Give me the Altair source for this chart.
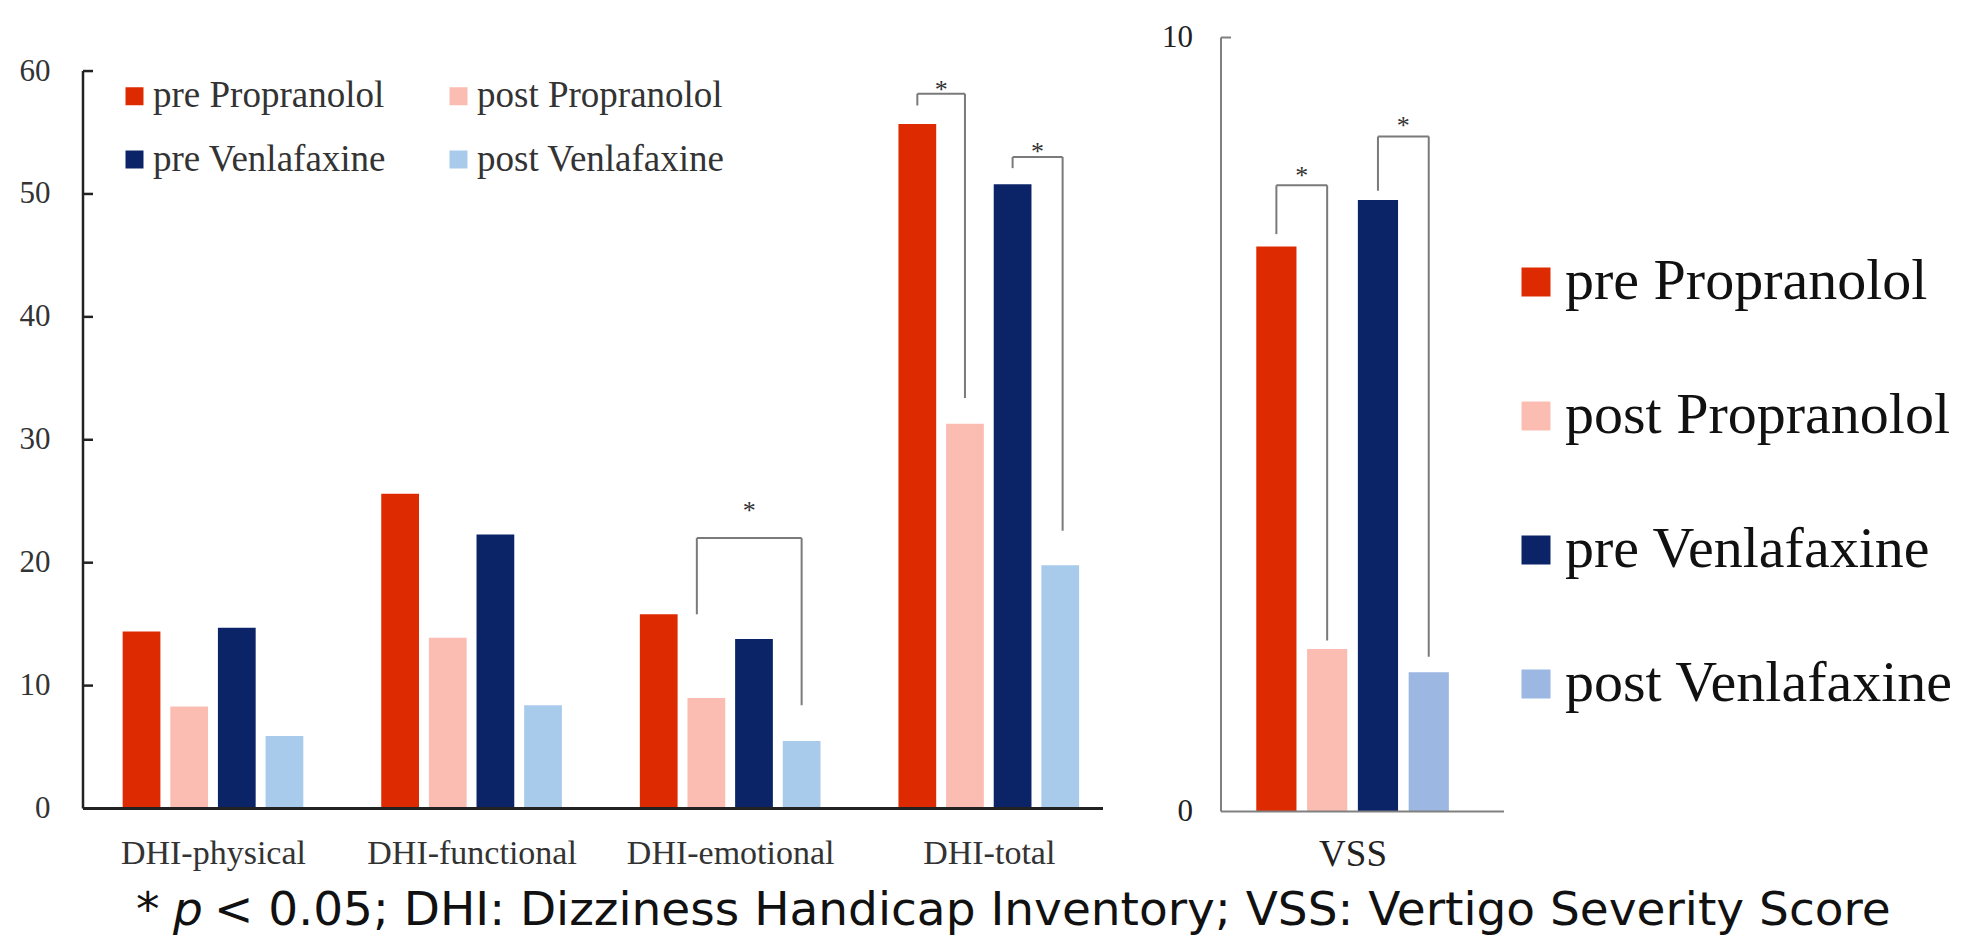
import json
import altair as alt
import pandas as pd

# ---------------- data ----------------
categories = ["DHI-physical", "DHI-functional", "DHI-emotional", "DHI-total"]
series = ["pre Propranolol", "post Propranolol", "pre Venlafaxine", "post Venlafaxine"]

pre_propranolol = [14.4, 25.6, 15.8, 55.7]
post_propranolol = [8.3, 13.9, 9.0, 31.3]
pre_venlafaxine = [14.7, 22.3, 13.8, 50.8]
post_venlafaxine = [5.9, 8.4, 5.5, 19.8]

vss_category = ["VSS"]
vss_values = [7.3, 2.1, 7.9, 1.8]   # pre Prop, post Prop, pre Ven, post Ven

dhi_ticks = [0, 10, 20, 30, 40, 50, 60]
vss_ticks = [0, 10]

colors_dhi = ["#DE2A00", "#FBBDB2", "#0B2468", "#A9CBEB"]
colors_vss = ["#DE2A00", "#FBBDB2", "#0B2468", "#9BB7E2"]

# significance brackets (group, from slot, to slot, top, left end, right end, star height)
dhi_br_group = [2, 3, 3]
dhi_br_from = [-0.70, -1.5, 0.5]
dhi_br_to = [1.5, -0.5, 1.55]
dhi_br_top = [22.0, 58.15, 53.0]
dhi_br_left_end = [15.8, 57.2, 52.1]
dhi_br_right_end = [8.4, 33.4, 22.6]
dhi_star_y = [24.5, 58.8, 53.7]

vss_br_group = [0, 0]
vss_br_from = [-1.5, 0.5]
vss_br_to = [-0.5, 1.5]
vss_br_top = [8.09, 8.72]
vss_br_left_end = [7.46, 8.02]
vss_br_right_end = [2.21, 2.0]
vss_star_y = [8.26, 8.91]

caption_star = "*"
caption_p = "p"
caption_rest = "< 0.05; DHI: Dizziness Handicap Inventory; VSS: Vertigo Severity Score"

# ---------------- layout constants ----------------
SERIF = "Liberation Serif"
CAP_FONT = "DejaVu Sans"
W, H = 1421, 774                 # plot area spanning both panels
X_DOMAIN = [-0.5026, 4.9923]     # group units
DHI_CENTERS = [0, 1, 2, 3]
DHI_SLOT, DHI_BAR = 0.1842, 0.146
VSS_CENTERS = [4.4067]
VSS_SLOT, VSS_BAR = 0.1964, 0.1554
DHI_Y = [-0.244, 62.73]
VSS_Y = [0, 10]
RIGHT_AXIS_PX = 1138             # pixel x of the VSS axis inside the plot

xscale = alt.Scale(domain=X_DOMAIN, nice=False, zero=False)


def bar_frame(per_series, centers, slot, bw):
    rows = []
    for si, (name, vals) in enumerate(zip(series, per_series)):
        for gi, v in enumerate(vals):
            c = centers[gi] + (si - 1.5) * slot
            rows.append({"series": name, "x_lo": c - bw / 2, "x_hi": c + bw / 2,
                         "value": v, "zero": 0})
    return pd.DataFrame(rows)


def bracket_frames(groups, frm, to, top, lend, rend, stars, centers, slot):
    segs, st = [], []
    for g, a, b, t, l, r, s in zip(groups, frm, to, top, lend, rend, stars):
        xa, xb = centers[g] + a * slot, centers[g] + b * slot
        segs += [dict(x1=xa, x2=xb, y1=t, y2=t),
                 dict(x1=xa, x2=xa, y1=t, y2=l),
                 dict(x1=xb, x2=xb, y1=t, y2=r)]
        st.append(dict(x=(xa + xb) / 2, y=s, t="*"))
    return pd.DataFrame(segs), pd.DataFrame(st)


all_centers = DHI_CENTERS + VSS_CENTERS
label_expr = ("datum.value > 4 ? " + json.dumps(vss_category[0]) + " : "
              + json.dumps(categories) + "[datum.value]")
xaxis = alt.Axis(values=all_centers, labelExpr=label_expr, title=None, grid=False,
                 ticks=False, domain=False, labelFont=SERIF,
                 labelFontSize={"condition": {"test": "datum.value > 4", "value": 37}, "value": 34},
                 labelColor={"condition": {"test": "datum.value > 4", "value": "#222222"}, "value": "#333333"},
                 labelPadding=25, labelFlush=False, labelOverlap=False, labelBound=False,
                 labelLimit=1000)


def panel(df, segs, stars, ydom, ticks, colors, legend, axis_color, xw, yw,
          x_px0, x_px1, label_color, label_pad, use_axis):
    yscale = alt.Scale(domain=ydom, nice=False, zero=False)
    if use_axis:
        yaxis = alt.Axis(values=ticks, title=None, grid=False, ticks=False, domain=False,
                         orient="left", format="d",
                         labelFont=SERIF, labelFontSize=31, labelColor=label_color,
                         labelPadding=label_pad, labelFlush=False, labelOverlap=False,
                         labelBound=False, labelLimit=1000)
    else:
        yaxis = None
    bars = alt.Chart(df).mark_rect().encode(
        x=alt.X("x_lo:Q", scale=xscale, axis=xaxis),
        x2="x_hi:Q",
        y=alt.Y("value:Q", scale=yscale, axis=yaxis),
        y2="zero:Q",
        color=alt.Color("series:N", scale=alt.Scale(domain=series, range=colors), legend=legend),
    )
    base_y = pd.DataFrame({"t0": [0], "t1": [max(ticks)]})
    x_line = alt.Chart(base_y).mark_rule(color=axis_color, strokeWidth=xw).encode(
        x=alt.value(x_px0), x2=alt.value(x_px1), y=alt.Y("t0:Q", scale=yscale, axis=yaxis))
    y_line = alt.Chart(base_y).mark_rule(color=axis_color, strokeWidth=yw).encode(
        x=alt.value(x_px0), y=alt.Y("t0:Q", scale=yscale, axis=yaxis), y2="t1:Q")
    tick_rules = alt.Chart(pd.DataFrame({"t": [t for t in ticks if t > 0]})).mark_rule(
        color=axis_color, strokeWidth=yw).encode(
        y=alt.Y("t:Q", scale=yscale, axis=yaxis), x=alt.value(x_px0), x2=alt.value(x_px0 + 10))
    br = alt.Chart(segs).mark_rule(color="#7a7a7a", strokeWidth=2).encode(
        x=alt.X("x1:Q", scale=xscale, axis=xaxis), x2="x2:Q",
        y=alt.Y("y1:Q", scale=yscale, axis=yaxis), y2="y2:Q")
    st = alt.Chart(stars).mark_text(font=SERIF, fontSize=26, color="#333333",
                                    baseline="middle", dy=4).encode(
        x=alt.X("x:Q", scale=xscale, axis=xaxis), y=alt.Y("y:Q", scale=yscale, axis=yaxis),
        text="t:N")
    layers = [bars, x_line, y_line, tick_rules, br, st]
    if not use_axis:
        # tick labels of this axis, drawn as text at the tick values
        tick_labels = alt.Chart(pd.DataFrame({"t": ticks})).mark_text(
            font=SERIF, fontSize=31, color=label_color, align="right", baseline="middle").encode(
            y=alt.Y("t:Q", scale=yscale, axis=yaxis), x=alt.value(x_px0 - label_pad),
            text=alt.Text("t:Q", format="d"))
        layers.append(tick_labels)
    return alt.layer(*layers)


# ---------------- DHI panel ----------------
dhi_df = bar_frame([pre_propranolol, post_propranolol, pre_venlafaxine, post_venlafaxine],
                   DHI_CENTERS, DHI_SLOT, DHI_BAR)
dhi_segs, dhi_stars = bracket_frames(dhi_br_group, dhi_br_from, dhi_br_to, dhi_br_top,
                                     dhi_br_left_end, dhi_br_right_end, dhi_star_y,
                                     DHI_CENTERS, DHI_SLOT)
left_legend = alt.Legend(orient="none", legendX=33, legendY=40, columns=2, direction="horizontal",
                         title=None, symbolType="square", symbolSize=324, symbolStrokeWidth=0,
                         symbolOpacity=1, labelFont=SERIF, labelFontSize=37,
                         labelColor="#333333", labelOffset=0, columnPadding=53,
                         rowPadding=25.5, padding=0, labelLimit=1000)
left = panel(dhi_df, dhi_segs, dhi_stars, DHI_Y, dhi_ticks, colors_dhi, left_legend,
             "#222222", 3, 2.5, 0, 1020, "#333333", 33, True)

# ---------------- VSS panel ----------------
vss_df = bar_frame([[v] for v in vss_values], VSS_CENTERS, VSS_SLOT, VSS_BAR)
vss_segs, vss_stars = bracket_frames(vss_br_group, vss_br_from, vss_br_to, vss_br_top,
                                     vss_br_left_end, vss_br_right_end, vss_star_y,
                                     VSS_CENTERS, VSS_SLOT)
right_legend = alt.Legend(orient="none", legendX=RIGHT_AXIS_PX + 286, legendY=215.5, title=None,
                          symbolType="square", symbolSize=841, symbolStrokeWidth=0,
                          symbolOpacity=1, labelFont=SERIF, labelFontSize=58,
                          labelColor="#111111", labelOffset=0, rowPadding=76,
                          padding=0, labelLimit=1000)
right = panel(vss_df, vss_segs, vss_stars, VSS_Y, vss_ticks, colors_vss, right_legend,
              "#808080", 2, 2, RIGHT_AXIS_PX, W, "#222222", 28, False)

# ---------------- caption ----------------
CAP_Y = 887
CAP_SIZE = 47
cap_df = pd.DataFrame({"a": [caption_star], "b": [caption_p], "c": [caption_rest]})
cap_base = alt.Chart(cap_df)
cap = alt.layer(
    cap_base.mark_text(font=CAP_FONT, fontSize=CAP_SIZE, align="left", baseline="alphabetic",
                       color="#111111").encode(text="a:N", x=alt.value(53), y=alt.value(CAP_Y)),
    cap_base.mark_text(font=CAP_FONT, fontSize=CAP_SIZE, fontStyle="italic", align="left",
                       baseline="alphabetic", color="#111111").encode(
        text="b:N", x=alt.value(90), y=alt.value(CAP_Y)),
    cap_base.mark_text(font=CAP_FONT, fontSize=CAP_SIZE, align="left", baseline="alphabetic",
                       color="#111111").encode(text="c:N", x=alt.value(131), y=alt.value(CAP_Y)),
)

chart = alt.layer(left, right, cap).resolve_scale(
    y="independent", color="independent").resolve_axis(y="independent").resolve_legend(
    color="independent").properties(
    width=W, height=H,
    padding={"left": 11, "top": 13.5, "right": 5, "bottom": 4}, background="white"
).configure_view(stroke=None)

chart.save("out.html", embed_options={"renderer": "svg", "actions": False})
